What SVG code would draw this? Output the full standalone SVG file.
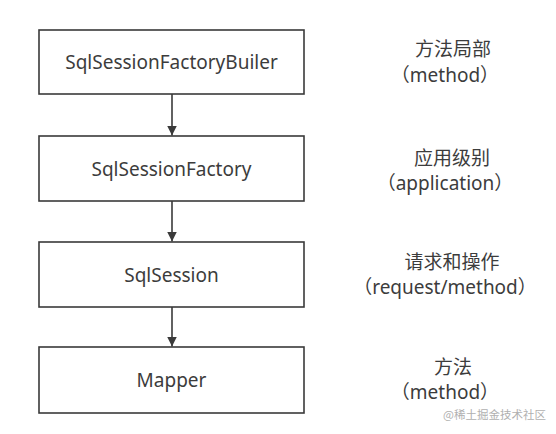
<svg xmlns="http://www.w3.org/2000/svg" width="556" height="434" viewBox="0 0 556 434">
<defs>
<style>
.box{fill:#fff;stroke:#3a3a3a;stroke-width:1.6}
.t{font-family:"Noto Sans","Noto Sans CJK SC",sans-serif;font-size:19px;fill:#3c3c3c;text-anchor:middle}
.l{font-family:"Noto Sans","Noto Sans CJK SC",sans-serif;font-size:19px;fill:#3c3c3c;text-anchor:middle}
.edge{stroke:#3a3a3a;stroke-width:1.6;fill:none;marker-end:url(#ah)}
.wm{font-family:"Noto Sans CJK SC",sans-serif;font-size:11.5px;fill:#b0b0b0}
</style>
<marker id="ah" viewBox="0 0 10 10" refX="10" refY="5" markerWidth="10" markerHeight="10" markerUnits="userSpaceOnUse" orient="auto">
<path d="M0,0 L10,5 L0,10 z" fill="#3a3a3a"/>
</marker>
</defs>
<rect width="556" height="434" fill="#fff"/>
<g id="connectors">
<line class="edge" x1="172" y1="94" x2="172" y2="135.5"/>
<line class="edge" x1="172" y1="201" x2="172" y2="241.5"/>
<line class="edge" x1="172" y1="307" x2="172" y2="346.5"/>
</g>
<g id="n1"><rect class="box" x="39" y="30" width="265" height="64"/><text class="t" x="171.5" y="69">SqlSessionFactoryBuiler</text></g>
<g id="n2"><rect class="box" x="39" y="136" width="265" height="65"/><text class="t" x="171.5" y="175.5">SqlSessionFactory</text></g>
<g id="n3"><rect class="box" x="39" y="242" width="265" height="65"/><text class="t" x="171.5" y="281.5">SqlSession</text></g>
<g id="n4"><rect class="box" x="39" y="347" width="265" height="66"/><text class="t" x="171.5" y="387">Mapper</text></g>
<g id="lab1"><text class="l" x="453" y="56">方法局部</text><text class="l" x="445" y="82">（method）</text></g>
<g id="lab2"><text class="l" x="452" y="165">应用级别</text><text class="l" x="445" y="190">（application）</text></g>
<g id="lab3"><text class="l" x="452" y="269">请求和操作</text><text class="l" x="445" y="294">（request/method）</text></g>
<g id="lab4"><text class="l" x="453" y="374">方法</text><text class="l" x="445" y="399">（method）</text></g>
<text class="wm" x="443" y="419">@稀土掘金技术社区</text>
</svg>
